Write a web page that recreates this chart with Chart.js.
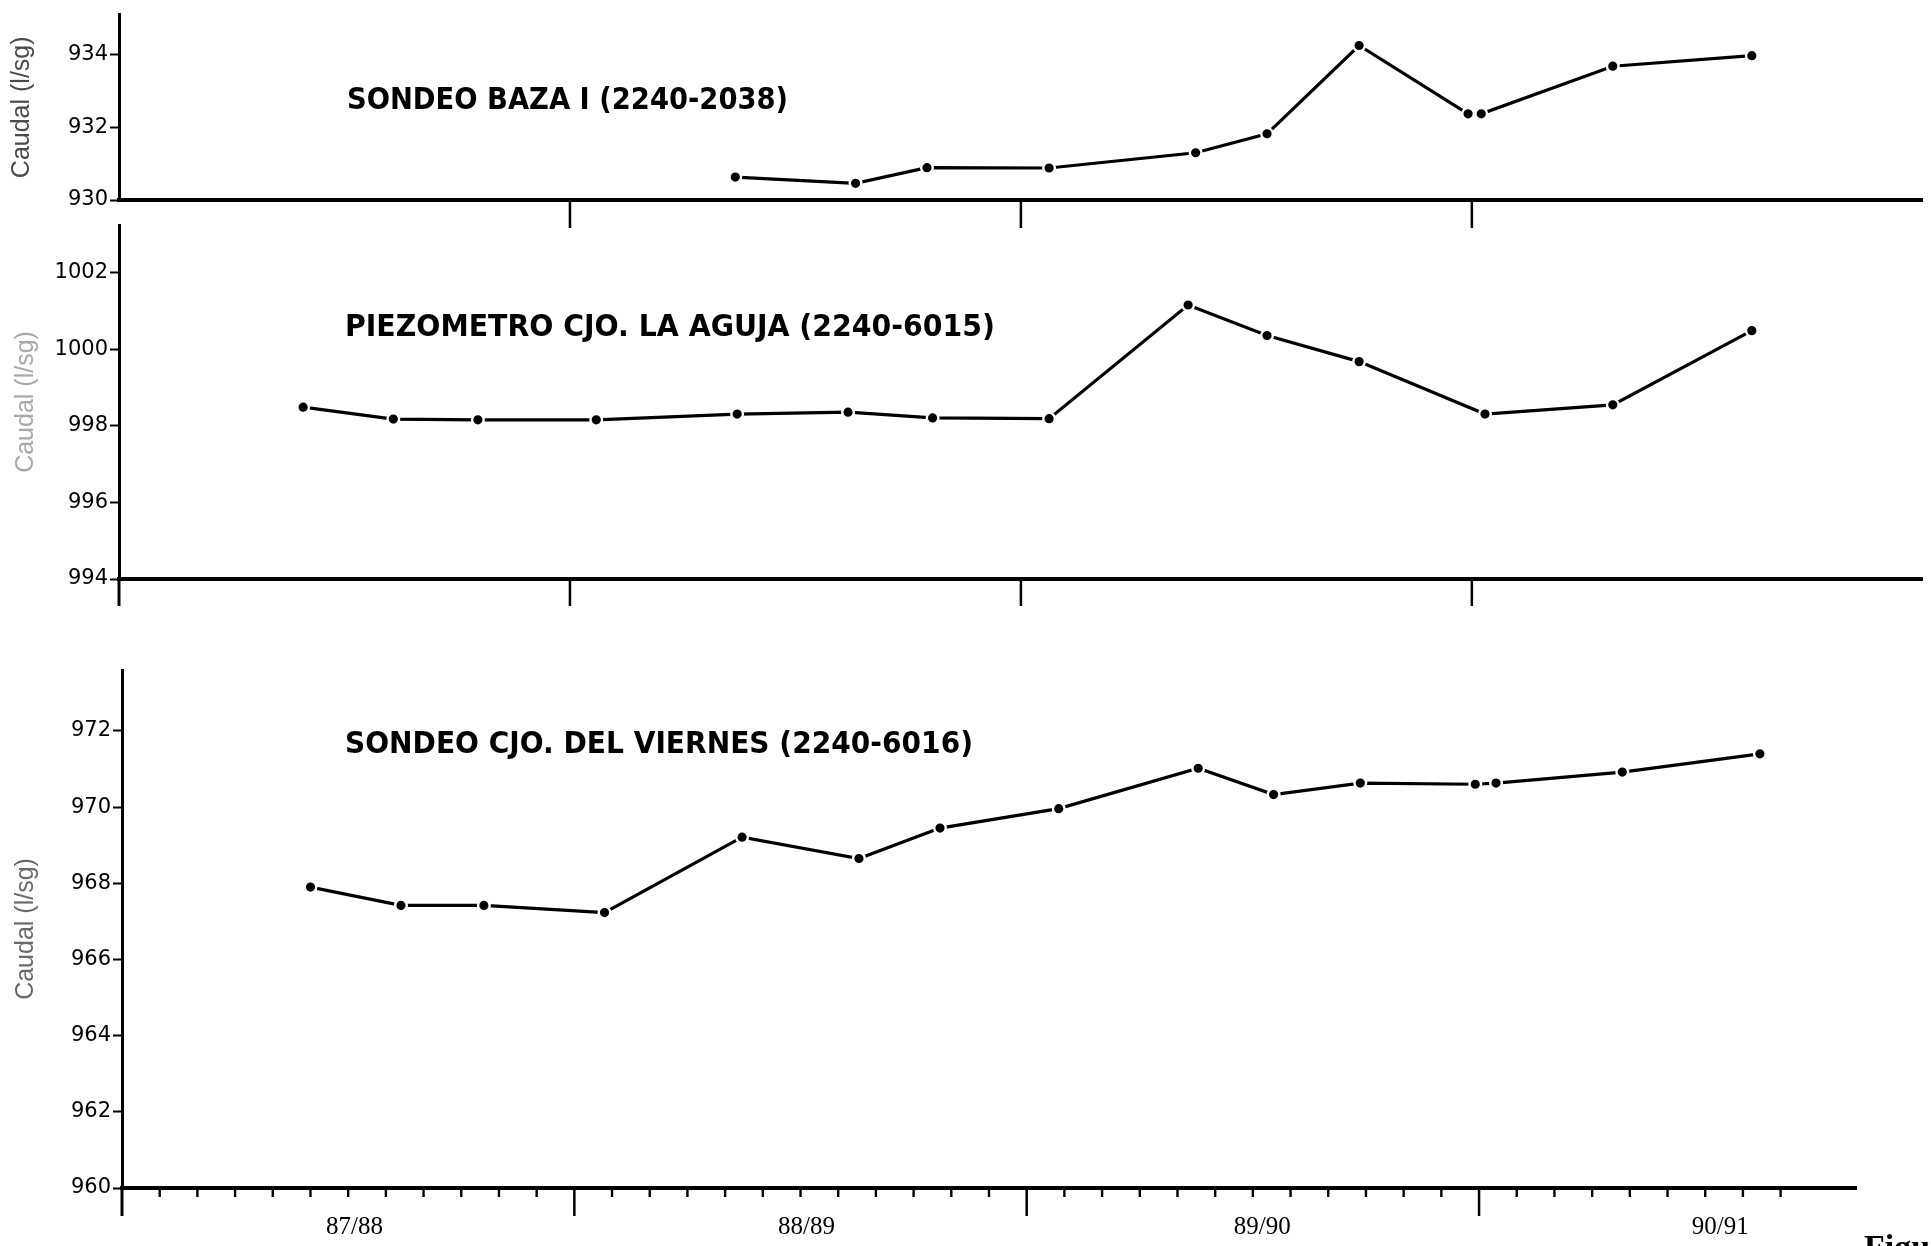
<!DOCTYPE html>
<html>
<head>
<meta charset="utf-8">
<title>Caudal</title>
<script src="https://cdn.jsdelivr.net/npm/chart.js@4.4.1/dist/chart.umd.min.js"></script>
<style>
  html, body { margin: 0; padding: 0; background: #fff; overflow: hidden; }
  body { width: 1931px; height: 1246px; position: relative; }
  canvas { position: absolute; left: 0; top: 0; }
</style>
</head>
<body>
<canvas id="baza" width="1931" height="1246"></canvas>
<canvas id="aguja" width="1931" height="1246"></canvas>
<canvas id="viernes" width="1931" height="1246"></canvas>
<script>
// Months counted from the start of hydrological year 87/88
const seasonLabels = ['87/88', '88/89', '89/90', '90/91'];
const seasonLabelMonths = [6.17, 18.16, 30.25, 42.4];
const yearStarts = [0, 12, 24, 36];

// SONDEO BAZA I (2240-2038)
const bazaMonths = [16.4, 19.6, 21.5, 24.75, 28.65, 30.55, 33.0, 35.9, 36.25, 39.75, 43.45];
const bazaCaudal = [930.63, 930.46, 930.89, 930.88, 931.30, 931.82, 934.25, 932.37, 932.37, 933.68, 933.97];
const bazaTicks = [930, 932, 934];

// PIEZOMETRO CJO. LA AGUJA (2240-6015)
const agujaMonths = [4.9, 7.3, 9.55, 12.7, 16.45, 19.4, 21.65, 24.75, 28.45, 30.55, 33.0, 36.35, 39.75, 43.45];
const agujaCaudal = [998.49, 998.18, 998.16, 998.16, 998.31, 998.36, 998.21, 998.19, 1001.16, 1000.36, 999.68, 998.31, 998.55, 1000.49];
const agujaTicks = [994, 996, 998, 1000, 1002];

// SONDEO CJO. DEL VIERNES (2240-6016)
const viernesMonths = [5.0, 7.4, 9.6, 12.8, 16.45, 19.55, 21.7, 24.85, 28.55, 30.55, 32.85, 35.9, 36.45, 39.8, 43.45];
const viernesCaudal = [967.90, 967.42, 967.42, 967.23, 969.21, 968.65, 969.45, 969.96, 971.02, 970.33, 970.63, 970.60, 970.63, 970.92, 971.40];
const viernesTicks = [960, 962, 964, 966, 968, 970, 972];

const monthTicks = [];
for (let m = 1; m <= 44; m++) if (m % 12 !== 0) monthTicks.push(m);

const CANVAS_H = 1246;

// Year-boundary ticks, monthly ticks and in-panel captions
const axisMarks = {
  id: 'axisMarks',
  afterDraw(chart, args, o) {
    const ctx = chart.ctx, area = chart.chartArea, xs = chart.scales.x;
    ctx.save();
    ctx.strokeStyle = '#000';
    ctx.lineCap = 'butt';
    const tick = (m, len, w) => {
      const px = xs.getPixelForValue(m);
      ctx.lineWidth = w;
      ctx.beginPath();
      ctx.moveTo(px, area.bottom);
      ctx.lineTo(px, area.bottom + len);
      ctx.stroke();
    };
    (o.major || []).forEach(m => tick(m, o.majorLen, m === 0 ? 3 : 2.5));
    (o.minor || []).forEach(m => tick(m, o.minorLen, 2.4));
    if (o.caption) {
      ctx.fillStyle = '#000';
      ctx.font = 'bold 28px "DejaVu Sans"';
      ctx.textAlign = 'left';
      ctx.textBaseline = 'middle';
      const w = ctx.measureText(o.caption).width;
      ctx.translate(o.captionX, o.captionY);
      ctx.scale(o.captionW / w, 1.05);
      ctx.fillText(o.caption, 0, 0);
      ctx.setTransform(1, 0, 0, 1, 0, 0);
    }
    if (o.note) {
      ctx.fillStyle = '#000';
      ctx.font = 'bold 34px "Liberation Serif"';
      ctx.textAlign = 'left';
      ctx.textBaseline = 'top';
      ctx.fillText(o.note, o.noteX, o.noteY);
    }
    ctx.restore();
  }
};

function panel(id, p) {
  const points = p.months.map((m, i) => ({ x: m, y: p.values[i] }));
  return new Chart(document.getElementById(id), {
    type: 'line',
    data: {
      datasets: [{
        data: points,
        borderColor: '#000',
        borderWidth: 3.2,
        tension: 0,
        pointRadius: 5.8,
        pointBackgroundColor: '#000',
        pointBorderColor: '#fff',
        pointBorderWidth: 2.4
      }]
    },
    plugins: [axisMarks],
    options: {
      responsive: false,
      animation: false,
      events: [],
      layout: { padding: { left: 0, top: p.top, right: p.right, bottom: 0 } },
      plugins: {
        legend: { display: false },
        tooltip: { enabled: false },
        axisMarks: p.marks
      },
      scales: {
        x: {
          type: 'linear',
          min: 0,
          max: p.xMax,
          afterFit: s => { s.height = CANVAS_H - p.bottom; },
          afterBuildTicks: s => { s.ticks = seasonLabelMonths.map(v => ({ value: v })); },
          grid: { display: false },
          border: { display: true, color: '#000', width: 4 },
          ticks: {
            display: p.showSeasons,
            autoSkip: false,
            maxRotation: 0,
            padding: 16,
            color: '#000',
            font: { family: 'Liberation Serif', size: 25 },
            callback: (v, i) => seasonLabels[i]
          }
        },
        y: {
          min: p.yMin,
          max: p.yMax,
          afterFit: s => { s.width = p.yWidth; },
          afterBuildTicks: s => { s.ticks = p.yTicks.map(v => ({ value: v })); },
          grid: { display: true, drawOnChartArea: false, drawTicks: true, tickLength: 9, tickWidth: 2, tickColor: '#000' },
          border: { display: true, color: '#000', width: 3 },
          ticks: {
            padding: 2,
            color: '#000',
            font: { family: 'DejaVu Sans', size: 21 },
            callback: v => String(v)
          },
          title: {
            display: true,
            text: 'Caudal (l/sg)',
            color: p.yTitleColor,
            font: { family: 'Liberation Sans', size: 25 },
            padding: { top: p.yTitlePad, bottom: 0 }
          }
        }
      }
    }
  });
}

panel('baza', {
  months: bazaMonths, values: bazaCaudal, yTicks: bazaTicks,
  yMin: 930, yMax: 935.1, top: 6, bottom: 200, xMax: 48, right: 0, yWidth: 119,
  showSeasons: false, yTitleColor: '#4a4a4a', yTitlePad: 7,
  marks: { major: [12, 24, 36], majorLen: 28,
           caption: 'SONDEO BAZA I (2240-2038)', captionX: 347, captionY: 101, captionW: 441 }
});

panel('aguja', {
  months: agujaMonths, values: agujaCaudal, yTicks: agujaTicks,
  yMin: 994, yMax: 1003.25, top: 225, bottom: 579, xMax: 48, right: 0, yWidth: 119,
  showSeasons: false, yTitleColor: '#a8a8a8', yTitlePad: 11,
  marks: { major: yearStarts, majorLen: 27,
           caption: 'PIEZOMETRO CJO. LA AGUJA (2240-6015)', captionX: 345, captionY: 328, captionW: 650 }
});

panel('viernes', {
  months: viernesMonths, values: viernesCaudal, yTicks: viernesTicks,
  yMin: 960, yMax: 973.6, top: 670, bottom: 1188, xMax: 46, right: 75, yWidth: 122,
  showSeasons: true, yTitleColor: '#6a6a6a', yTitlePad: 11,
  marks: { major: yearStarts, majorLen: 28, minor: monthTicks, minorLen: 9,
           caption: 'SONDEO CJO. DEL VIERNES (2240-6016)', captionX: 345, captionY: 745, captionW: 628,
           note: 'Figura', noteX: 1864, noteY: 1232 }
});
</script>
</body>
</html>
